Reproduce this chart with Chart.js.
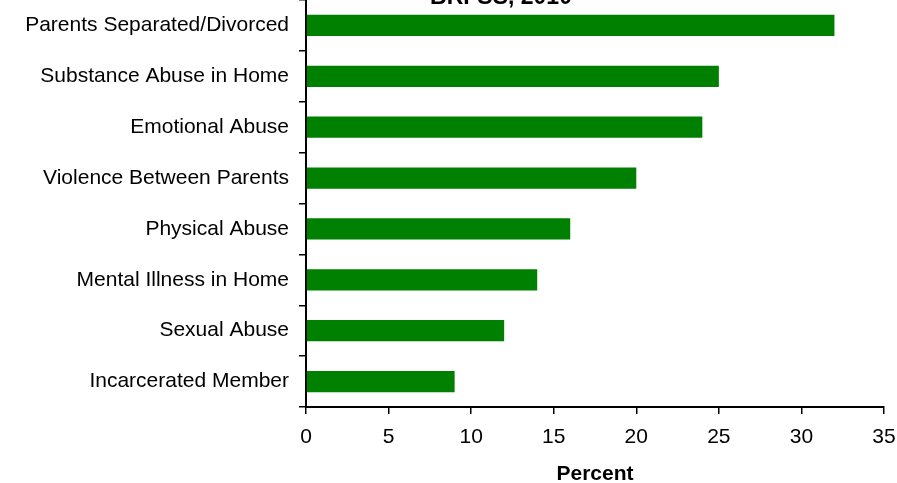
<!DOCTYPE html>
<html>
<head>
<meta charset="utf-8">
<script src="https://cdn.jsdelivr.net/npm/chart.js@4"></script>
<style>
  html, body { margin: 0; padding: 0; background: #fff; }
  #wrap { width: 897px; height: 483px; position: relative; }
</style>
</head>
<body>
<div id="wrap"><canvas id="ace-chart"></canvas></div>
<script>
var categories = ["Parents Separated/Divorced", "Substance Abuse in Home", "Emotional Abuse",
  "Violence Between Parents", "Physical Abuse", "Mental Illness in Home", "Sexual Abuse",
  "Incarcerated Member"];
var percents = [32, 25, 24, 20, 16, 14, 12, 9];
var chartTitle = "BRFSS, 2010";
var axisTitle = "Percent";

// title sits half off the top of the picture, so draw it by hand
var topTitle = {
  id: 'topTitle',
  afterDraw: function (chart) {
    var ctx = chart.ctx;
    ctx.save();
    ctx.font = 'bold 23px "Liberation Sans", Arial, sans-serif';
    ctx.fillStyle = '#000';
    ctx.textAlign = 'center';
    ctx.textBaseline = 'alphabetic';
    ctx.fillText(chartTitle, 501, 4);
    ctx.restore();
  }
};

new Chart(document.getElementById("ace-chart"), {
  type: 'bar',
  data: {
    labels: categories,
    datasets: [{
      label: axisTitle,
      backgroundColor: "#008000",
      data: percents,
      barPercentage: 0.42,
      categoryPercentage: 1.0
    }]
  },
  options: {
    indexAxis: 'y',
    responsive: true,
    maintainAspectRatio: false,
    animation: false,
    layout: { padding: { top: 0, left: 0, right: 13, bottom: 0 } },
    plugins: {
      legend: { display: false },
      tooltip: { enabled: false }
    },
    scales: {
      x: {
        min: 0,
        max: 35,
        ticks: {
          stepSize: 5,
          color: '#000',
          padding: 11,
          font: { family: '"Liberation Sans", Arial', size: 21 }
        },
        grid: {
          drawOnChartArea: false,
          tickLength: 7,
          color: '#000',
          lineWidth: 1.5
        },
        border: { color: '#000', width: 2 },
        title: {
          display: true,
          text: axisTitle,
          color: '#000',
          padding: { top: 11, bottom: -4 },
          font: { family: '"Liberation Sans", Arial', size: 21, weight: 'bold' }
        },
        afterFit: function (scale) {
          scale.height = 76;
          scale.paddingLeft = 0;
          scale.paddingRight = 0;
        }
      },
      y: {
        offset: true,
        ticks: {
          color: '#000',
          padding: 10,
          font: { family: '"Liberation Sans", Arial', size: 21 }
        },
        grid: {
          offset: true,
          drawOnChartArea: false,
          tickLength: 7,
          color: '#000',
          lineWidth: 1.5
        },
        border: { color: '#000', width: 2 },
        afterFit: function (scale) {
          scale.width = 306;
          scale.paddingTop = 0;
          scale.paddingBottom = 0;
        }
      }
    }
  },
  plugins: [topTitle]
});
</script>
</body>
</html>
